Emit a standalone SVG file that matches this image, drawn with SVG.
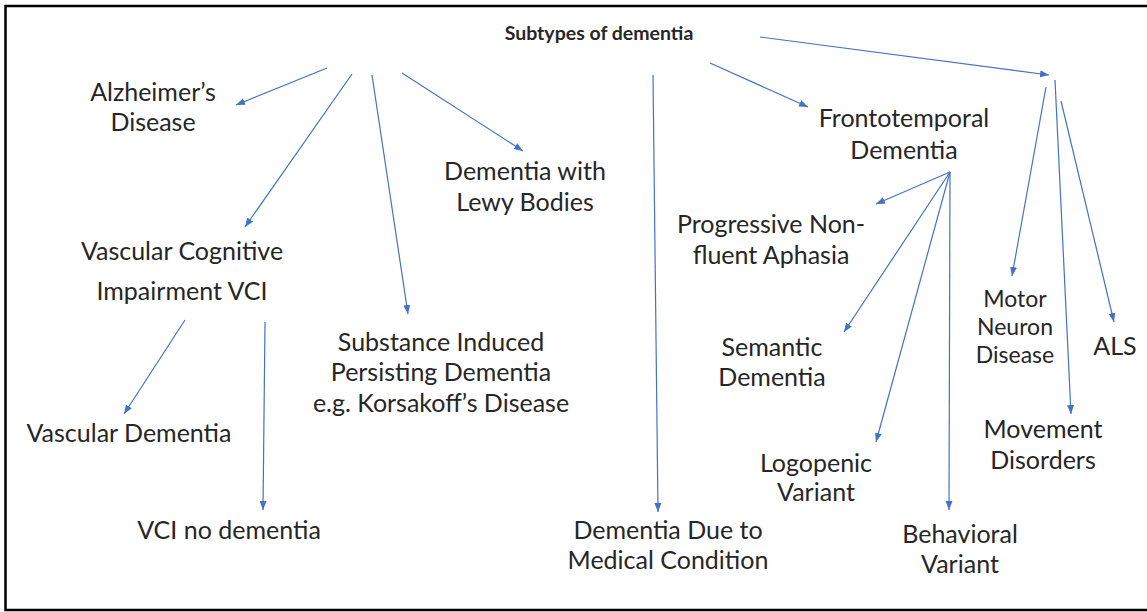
<svg xmlns="http://www.w3.org/2000/svg" width="1147" height="612" viewBox="0 0 1147 612">
<style>
text{font-family:Lato,"Liberation Sans",sans-serif;font-size:25px;fill:#262626;text-anchor:middle}
.t{font-size:19.5px;font-weight:bold}
.s{font-size:23px}
.c line{stroke:#4472C4;stroke-width:1.2;marker-end:url(#a)}
</style>
<defs>
<marker id="a" markerUnits="userSpaceOnUse" markerWidth="10" markerHeight="8" refX="9" refY="4" orient="auto">
<path d="M0,0.5 L9,4 L0,7.5 z" fill="#4472C4"/>
</marker>
</defs>
<rect x="0" y="0" width="1147" height="612" fill="#fff"/>
<rect x="5.5" y="6" width="1150" height="604" fill="none" stroke="#000" stroke-width="2.5"/>
<g class="c">
<line x1="327" y1="68" x2="236" y2="105"/>
<line x1="352" y1="74" x2="245" y2="227"/>
<line x1="372" y1="75" x2="408" y2="314"/>
<line x1="402" y1="73" x2="523" y2="151"/>
<line x1="653" y1="75" x2="658" y2="512"/>
<line x1="710" y1="63" x2="808" y2="107"/>
<line x1="760" y1="37" x2="1049" y2="75"/>
<line x1="1046" y1="87" x2="1012" y2="276"/>
<line x1="1055" y1="80" x2="1071" y2="414"/>
<line x1="1061" y1="101" x2="1114" y2="322"/>
<line x1="950" y1="172" x2="876" y2="204"/>
<line x1="950" y1="172" x2="844" y2="332"/>
<line x1="950" y1="172" x2="876" y2="442"/>
<line x1="950" y1="172" x2="949" y2="510"/>
<line x1="185" y1="320" x2="124" y2="414"/>
<line x1="265" y1="322" x2="263" y2="510"/>
</g>
<g id="root"><text class="t" x="599" y="40">Subtypes of dementia</text></g>
<g id="alz"><text x="153" y="101">Alzheimer’s</text><text x="153" y="131">Disease</text></g>
<g id="dlb"><text x="525" y="180">Dementia with</text><text x="525" y="211">Lewy Bodies</text></g>
<g id="vci"><text x="182" y="260">Vascular Cognitive</text><text x="182" y="300">Impairment VCI</text></g>
<g id="sub"><text x="441" y="351">Substance Induced</text><text x="441" y="381">Persisting Dementia</text><text x="441" y="412">e.g. Korsakoff’s Disease</text></g>
<g id="vd"><text x="129" y="442">Vascular Dementia</text></g>
<g id="vcind"><text x="229" y="539">VCI no dementia</text></g>
<g id="med"><text x="668" y="539">Dementia Due to</text><text x="668" y="569">Medical Condition</text></g>
<g id="ftd"><text x="904" y="127">Frontotemporal</text><text x="904" y="159">Dementia</text></g>
<g id="pnfa"><text x="771" y="233">Progressive Non-</text><text x="771" y="264">fluent Aphasia</text></g>
<g id="sem"><text x="772" y="356">Semantic</text><text x="772" y="386">Dementia</text></g>
<g id="lv"><text x="816" y="472">Logopenic</text><text x="816" y="501">Variant</text></g>
<g id="bv"><text x="960" y="543">Behavioral</text><text x="960" y="573">Variant</text></g>
<g id="mnd"><text class="s" x="1015" y="307">Motor</text><text class="s" x="1015" y="335">Neuron</text><text class="s" x="1015" y="363">Disease</text></g>
<g id="als"><text x="1115" y="355">ALS</text></g>
<g id="mov"><text x="1043" y="438">Movement</text><text x="1043" y="469">Disorders</text></g>
</svg>
